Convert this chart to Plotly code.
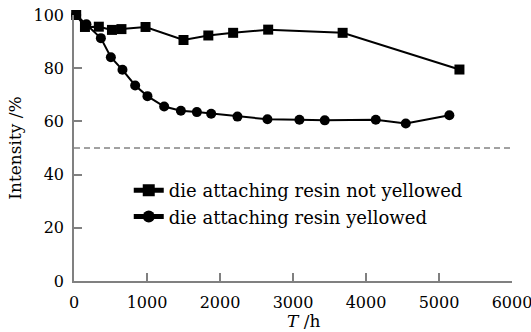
import plotly.graph_objects as go

# Data
t_not_yellowed = [30, 150, 340, 520, 650, 980, 1500, 1840, 2180, 2660, 3680, 5280]
i_not_yellowed = [100, 95.5, 95.6, 94.4, 94.7, 95.5, 90.6, 92.3, 93.3, 94.5, 93.3, 79.5]

t_yellowed = [30, 170, 368, 505, 664, 838, 1006, 1235, 1464, 1683, 1879, 2239, 2650, 3088, 3435, 4134, 4545, 5142]
i_yellowed = [100, 96.5, 91.3, 84.1, 79.4, 73.5, 69.5, 65.6, 64.0, 63.5, 62.9, 61.8, 60.8, 60.6, 60.4, 60.6, 59.2, 62.3]

threshold = 50
x_ticks = [0, 1000, 2000, 3000, 4000, 5000, 6000]
y_ticks = [0, 20, 40, 60, 80, 100]

FONT = "DejaVu Serif, Liberation Serif, serif"

fig = go.Figure()
fig.add_trace(go.Scatter(
    x=t_not_yellowed, y=i_not_yellowed, mode="lines+markers",
    name="die attaching resin not yellowed",
    line=dict(color="black", width=2),
    marker=dict(symbol="square", size=10, color="black"),
    cliponaxis=False,
))
fig.add_trace(go.Scatter(
    x=t_yellowed, y=i_yellowed, mode="lines+markers",
    name="die attaching resin yellowed",
    line=dict(color="black", width=2),
    marker=dict(symbol="circle", size=10, color="black"),
    cliponaxis=False,
))
fig.add_hline(y=threshold, line=dict(color="#444444", width=1, dash="6px,4px"))

fig.add_annotation(
    text="<i>T</i> /h", xref="paper", yref="paper", x=0.525, y=0,
    xanchor="center", yanchor="middle", yshift=-40, showarrow=False,
    font=dict(family=FONT, size=17, color="black"),
)

fig.update_layout(
    width=531, height=332,
    margin=dict(l=74, r=19, t=15, b=51, autoexpand=False),
    paper_bgcolor="white", plot_bgcolor="white",
    font=dict(family=FONT, size=18, color="black"),
    showlegend=True,
    legend=dict(x=0.125, y=0.41, xanchor="left", yanchor="top",
                bgcolor="rgba(0,0,0,0)", font=dict(family=FONT, size=18),
                tracegroupgap=0, itemsizing="constant"),
    xaxis=dict(
        range=[0, 6000], tickvals=x_ticks, ticktext=[str(v) for v in x_ticks],
        tickfont=dict(family=FONT, size=16),
        showgrid=False, zeroline=False, showline=True, linecolor="#808080", linewidth=1.5,
        ticks="inside", ticklen=8, tickcolor="#808080", tickwidth=1.5,
        ticklabelstandoff=6, ticklabeloverflow="allow", automargin=False,
    ),
    yaxis=dict(
        range=[0, 100], tickvals=y_ticks, ticktext=[str(v) for v in y_ticks],
        tickfont=dict(family=FONT, size=16),
        showgrid=False, zeroline=False, showline=True, linecolor="#808080", linewidth=1.5,
        ticks="inside", ticklen=8, tickcolor="#808080", tickwidth=1.5,
        ticklabelstandoff=5, automargin=False,
        title=dict(text="Intensity /%", standoff=8, font=dict(family=FONT, size=17)),
    ),
)

fig.write_html("out.html")
